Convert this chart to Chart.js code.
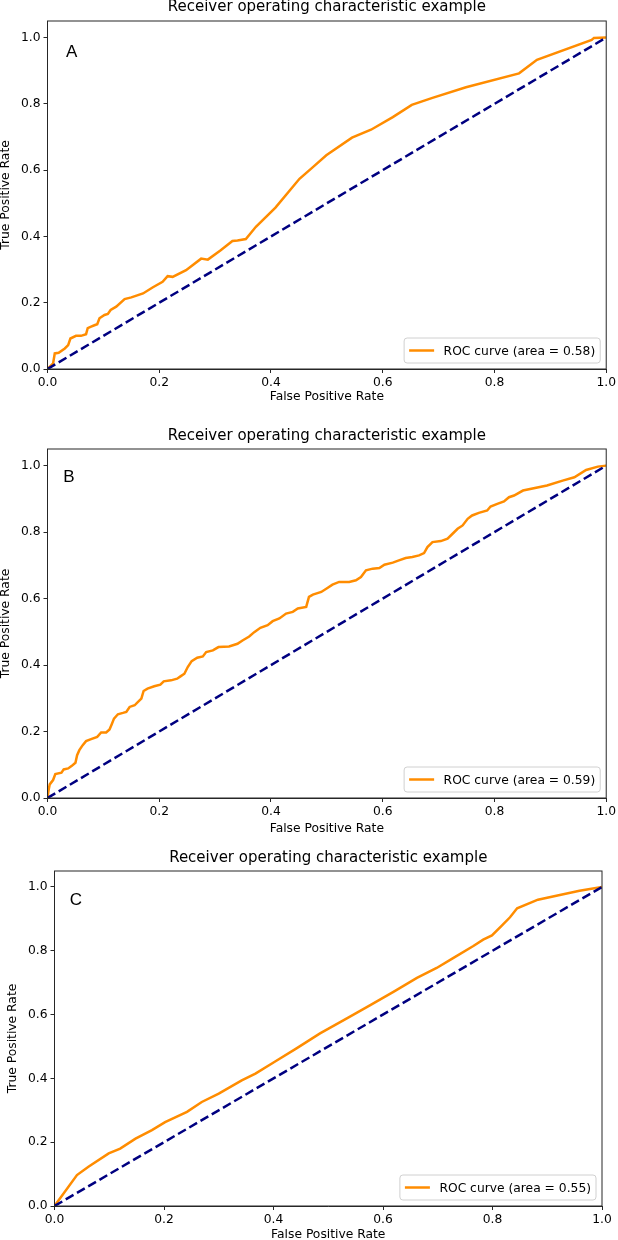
<!DOCTYPE html>
<html>
<head>
<meta charset="utf-8">
<script src="https://cdn.jsdelivr.net/npm/chart.js@4.4.1/dist/chart.umd.min.js"></script>
<style>
html,body{margin:0;padding:0;background:#fff;overflow:hidden;}
body{width:618px;height:1240px;position:relative;}
canvas{position:absolute;left:0;}
</style>
</head>
<body>
<canvas id="rocA" width="618" height="410" style="top:0px"></canvas>
<canvas id="rocB" width="618" height="430" style="top:410px"></canvas>
<canvas id="rocC" width="618" height="420" style="top:830px"></canvas>
<script>
const titleText = 'Receiver operating characteristic example';
const xTicks = [0, 0.2, 0.4, 0.6, 0.8, 1.0];
const yTicks = [0, 0.2, 0.4, 0.6, 0.8, 1.0];
const chance = [0, 1];

// panel A
const fprA = [0,0.010,0.013,0.020,0.031,0.037,0.041,0.051,0.060,0.069,0.072,0.077,0.084,0.089,0.093,0.102,0.108,0.113,0.123,0.138,0.150,0.171,0.188,0.206,0.215,0.224,0.248,0.275,0.287,0.310,0.331,0.340,0.355,0.373,0.408,0.451,0.475,0.499,0.545,0.579,0.618,0.652,0.689,0.749,0.844,0.876,0.974,0.978,1.0];
const tprA = [0,0.017,0.047,0.049,0.062,0.072,0.092,0.100,0.100,0.105,0.123,0.127,0.132,0.135,0.153,0.163,0.166,0.178,0.188,0.211,0.216,0.228,0.246,0.263,0.280,0.278,0.298,0.333,0.330,0.358,0.386,0.388,0.392,0.429,0.487,0.574,0.609,0.645,0.698,0.722,0.760,0.797,0.818,0.850,0.892,0.933,0.993,0.999,1.0];

// panel B
const fprB = [0,0.002,0.004,0.010,0.014,0.025,0.029,0.037,0.043,0.050,0.053,0.057,0.063,0.069,0.078,0.089,0.096,0.105,0.111,0.115,0.119,0.126,0.135,0.141,0.147,0.156,0.162,0.168,0.172,0.179,0.191,0.202,0.208,0.221,0.232,0.238,0.245,0.251,0.258,0.268,0.278,0.284,0.296,0.306,0.325,0.340,0.349,0.361,0.370,0.381,0.394,0.403,0.415,0.427,0.439,0.448,0.463,0.468,0.475,0.490,0.501,0.510,0.522,0.540,0.552,0.561,0.570,0.582,0.594,0.603,0.618,0.629,0.641,0.653,0.665,0.674,0.680,0.689,0.704,0.716,0.725,0.734,0.743,0.752,0.760,0.772,0.787,0.793,0.805,0.817,0.826,0.835,0.851,0.894,0.922,0.943,0.964,0.985,1.0];
const tprB = [0,0.024,0.041,0.054,0.072,0.076,0.086,0.089,0.096,0.106,0.129,0.144,0.159,0.171,0.177,0.184,0.197,0.197,0.206,0.222,0.239,0.252,0.256,0.259,0.274,0.279,0.289,0.299,0.322,0.329,0.336,0.341,0.351,0.354,0.359,0.366,0.374,0.394,0.412,0.422,0.426,0.439,0.444,0.454,0.456,0.464,0.474,0.486,0.499,0.512,0.520,0.532,0.540,0.555,0.560,0.570,0.575,0.605,0.612,0.620,0.632,0.642,0.650,0.650,0.655,0.665,0.685,0.690,0.692,0.702,0.708,0.715,0.722,0.725,0.730,0.737,0.755,0.770,0.773,0.780,0.795,0.810,0.820,0.840,0.850,0.858,0.865,0.877,0.885,0.892,0.905,0.910,0.925,0.940,0.955,0.965,0.987,0.997,1.0];

// panel C
const fprC = [0,0.041,0.062,0.099,0.120,0.148,0.178,0.202,0.242,0.269,0.300,0.342,0.367,0.403,0.442,0.485,0.534,0.576,0.619,0.662,0.698,0.728,0.765,0.783,0.799,0.817,0.832,0.845,0.883,0.923,0.959,1.0];
const tprC = [0,0.097,0.123,0.165,0.180,0.211,0.238,0.263,0.295,0.326,0.352,0.394,0.415,0.453,0.494,0.541,0.588,0.629,0.671,0.715,0.746,0.777,0.815,0.835,0.848,0.879,0.905,0.933,0.960,0.975,0.988,1.0];

const aucs = ['0.58', '0.59', '0.55'];
const letters = ['A', 'B', 'C'];

const font = 'DejaVu Sans';
const ink = '#262626';

// frame, panel letter and legend box
const rocExtras = {
  id: 'rocExtras',
  afterDatasetsDraw(chart, args, opts) {
    const {ctx, chartArea: a, scales: {x, y}} = chart;
    ctx.save();
    ctx.strokeStyle = ink;
    ctx.lineWidth = 1;
    ctx.strokeRect(a.left, a.top, a.right - a.left, a.bottom - a.top);

    ctx.fillStyle = '#000';
    ctx.font = '17px "Liberation Sans"';
    ctx.textAlign = 'left';
    ctx.textBaseline = 'alphabetic';
    ctx.fillText(opts.letter, x.getPixelForValue(opts.lx), y.getPixelForValue(opts.ly));

    const ds = chart.data.datasets[0];
    ctx.font = '12.3px "' + font + '"';
    const pad = 5, hl = 25, gap = 9.5, h = 25;
    const tw = ctx.measureText(ds.label).width;
    const w = pad + hl + gap + tw + pad;
    const bx = a.right - 6 - w, by = a.bottom - 6 - h;
    ctx.beginPath();
    ctx.roundRect(bx, by, w, h, 3);
    ctx.fillStyle = 'rgba(255,255,255,0.85)';
    ctx.fill();
    ctx.strokeStyle = '#d0d0d0';
    ctx.stroke();
    ctx.beginPath();
    ctx.moveTo(bx + pad, by + h / 2);
    ctx.lineTo(bx + pad + hl, by + h / 2);
    ctx.strokeStyle = ds.borderColor;
    ctx.lineWidth = ds.borderWidth;
    ctx.stroke();
    ctx.fillStyle = '#000';
    ctx.textBaseline = 'middle';
    ctx.fillText(ds.label, bx + pad + hl + gap, by + h / 2 + 1);
    ctx.restore();
  }
};

function rocChart(id, fpr, tpr, auc, letter, g) {
  return new Chart(document.getElementById(id), {
    type: 'scatter',
    data: {
      datasets: [{
        label: 'ROC curve (area = ' + auc + ')',
        data: fpr.map((v, i) => ({x: v, y: tpr[i]})),
        showLine: true,
        borderColor: '#ff8c00',
        borderWidth: 2.5,
        pointRadius: 0,
        order: 2
      }, {
        label: 'chance',
        data: chance.map(v => ({x: v, y: v})),
        showLine: true,
        borderColor: '#000080',
        borderWidth: 2.5,
        borderDash: [9, 4],
        pointRadius: 0,
        order: 1
      }]
    },
    options: {
      responsive: false,
      animation: false,
      devicePixelRatio: 1,
      layout: {padding: {left: g.left, right: g.right, top: g.top, bottom: 0}},
      plugins: {
        legend: {display: false},
        tooltip: {enabled: false},
        title: {
          display: true, text: titleText, color: '#000', fullSize: false,
          font: {family: font, size: 15, weight: 'normal', lineHeight: 1},
          padding: {top: 0, bottom: g.titleGap}
        },
        rocExtras: {letter: letter, lx: g.lx, ly: g.ly}
      },
      scales: {
        x: {
          type: 'linear', min: 0, max: 1,
          afterBuildTicks: s => { s.ticks = xTicks.map(v => ({value: v})); },
          afterFit: s => { s.height = g.xAxisH; },
          grid: {drawOnChartArea: false, drawTicks: true, tickLength: 4, tickColor: ink},
          border: {color: ink},
          ticks: {color: '#000', font: {family: font, size: 12.3}, padding: 2, maxRotation: 0, autoSkip: false,
            callback: v => v.toFixed(1)},
          title: {display: true, text: 'False Positive Rate', color: '#000',
            font: {family: font, size: 12.3, lineHeight: 1}, padding: {top: 0, bottom: g.xTitlePad}}
        },
        y: {
          type: 'linear', min: 0, max: 1.05,
          afterBuildTicks: s => { s.ticks = yTicks.map(v => ({value: v})); },
          afterFit: s => { s.width = 47.5; },
          grid: {drawOnChartArea: false, drawTicks: true, tickLength: 4, tickColor: ink},
          border: {color: ink},
          ticks: {color: '#000', font: {family: font, size: 12.3}, padding: 3,
            callback: v => v.toFixed(1)},
          title: {display: true, text: 'True Positive Rate', color: '#000',
            font: {family: font, size: 12.3, lineHeight: 1}, padding: {top: 0, bottom: 0}}
        }
      }
    },
    plugins: [rocExtras]
  });
}

rocChart('rocA', fprA, tprA, aucs[0], letters[0],
  {left: 0, right: 10.5, top: 0, titleGap: 6, xAxisH: 41, xTitlePad: 7, lx: 0.033, ly: 0.94});
rocChart('rocB', fprB, tprB, aucs[1], letters[1],
  {left: 0, right: 10.5, top: 19, titleGap: 5, xAxisH: 42, xTitlePad: 5.5, lx: 0.028, ly: 0.95});
rocChart('rocC', fprC, tprC, aucs[2], letters[2],
  {left: 7, right: 16, top: 20.5, titleGap: 5.5, xAxisH: 44, xTitlePad: 8.8, lx: 0.028, ly: 0.944});
</script>
</body>
</html>
